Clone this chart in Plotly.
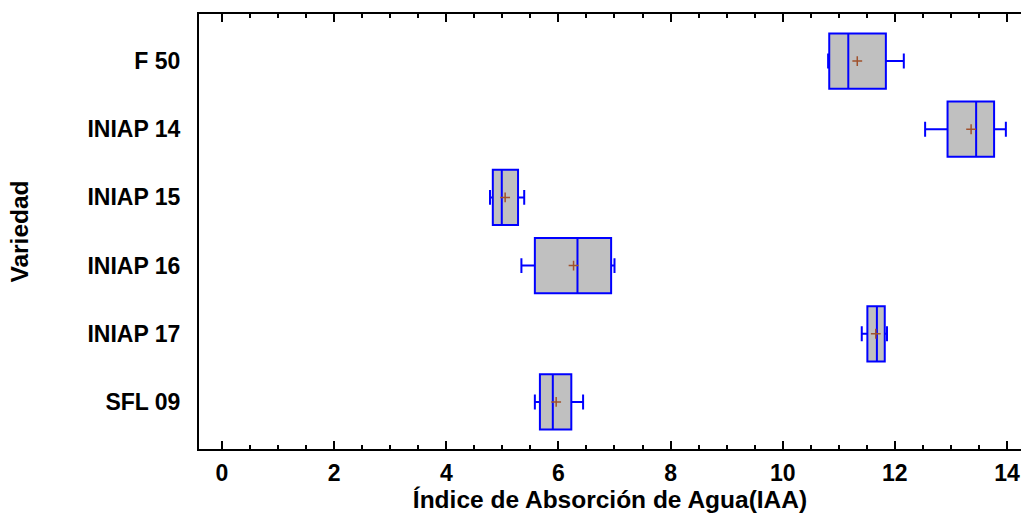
import plotly.graph_objects as go

# Data
variedades = ["F 50", "INIAP 14", "INIAP 15", "INIAP 16", "INIAP 17", "SFL 09"]
minimo = [10.81, 12.54, 4.78, 5.34, 11.41, 5.58]
q1 = [10.83, 12.94, 4.83, 5.58, 11.51, 5.67]
mediana = [11.17, 13.45, 4.99, 6.34, 11.68, 5.90]
media = [11.33, 13.36, 5.05, 6.27, 11.66, 5.96]
q3 = [11.84, 13.77, 5.28, 6.94, 11.82, 6.23]
maximo = [12.16, 13.98, 5.39, 7.00, 11.86, 6.44]
x_ticks = [0, 2, 4, 6, 8, 10, 12, 14]
x_tick_labels = ["0", "2", "4", "6", "8", "10", "12", "14"]

FONT = "Liberation Sans, Arial, sans-serif"

fig = go.Figure()
fig.add_trace(go.Box(
    y=variedades, q1=q1, median=mediana, q3=q3,
    lowerfence=minimo, upperfence=maximo,
    orientation="h", fillcolor="#c0c0c0",
    line=dict(color="#0000ff", width=2),
    whiskerwidth=0.27, width=0.81, boxpoints=False,
    showlegend=False, hoverinfo="skip",
))
fig.add_trace(go.Scatter(
    x=media, y=variedades, mode="markers",
    marker=dict(symbol="cross-thin", size=7, line=dict(color="#a0522d", width=1.5)),
    showlegend=False, hoverinfo="skip",
))

fig.update_layout(
    width=1021, height=515,
    margin=dict(l=199, r=0, t=14, b=66),
    paper_bgcolor="white", plot_bgcolor="white",
    font=dict(family=FONT, color="black", size=23, weight="bold"),
    xaxis=dict(
        range=[-0.41, 14.25],
        tickvals=x_ticks, ticktext=x_tick_labels,
        ticks="inside", ticklen=8, tickwidth=2, tickcolor="black",
        showline=True, linewidth=2, linecolor="black", mirror="ticks",
        minor=dict(dtick=0.5, tick0=0, ticks="inside", ticklen=4, tickwidth=2, tickcolor="black"),
        showgrid=False, zeroline=False,
        tickfont=dict(family=FONT, size=23, weight="bold"),
        ticklabelstandoff=2,
        title=dict(text="Índice de Absorción de Agua(IAA)", font=dict(family=FONT, size=24.5, weight="bold"), standoff=5),
    ),
    yaxis=dict(
        type="category", categoryorder="array", categoryarray=variedades,
        range=[5.69, -0.69],
        showline=True, linewidth=2, linecolor="black", mirror=False,
        ticks="", showgrid=False, zeroline=False,
        ticklabelstandoff=12,
        tickfont=dict(family=FONT, size=23, weight="bold"),
        title=dict(text="Variedad", font=dict(family=FONT, size=24.5, weight="bold"), standoff=52),
    ),
)

fig.write_html("out.html")
